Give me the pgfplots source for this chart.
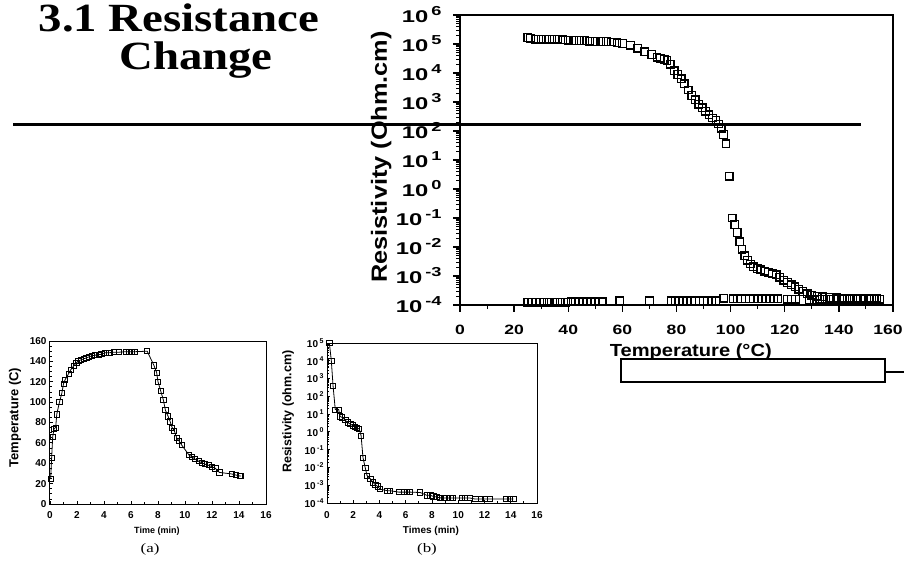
\documentclass[border=0pt]{standalone}
\usepackage{fontspec}
\usepackage{pgfplots}
\pgfplotsset{compat=1.18}
\setmainfont{Liberation Serif}
\newfontfamily\titlefont{Liberation Serif}[FakeStretch=1.17]
\newfontfamily\sfwide{Liberation Sans}[FakeStretch=1.3]
\newfontfamily\sfy{Liberation Sans}[FakeStretch=1.4]
\newfontfamily\sfmid{Liberation Sans}[FakeStretch=1.15]
\newfontfamily\sfn{Liberation Sans}
\newfontfamily\capfont{Liberation Serif}[FakeStretch=1.3]
\newcommand\fs[1]{\fontsize{#1}{#1}\selectfont}
\newcommand\ee[1]{10\hspace{3pt}\raisebox{7pt}{\fs{13}#1}}
\newcommand\es[1]{10\hspace{1.5pt}\raisebox{4pt}{\fs{7}#1}}
\pgfplotsset{/pgf/number format/assume math mode=true}
\begin{document}
\begin{tikzpicture}
\path[use as bounding box] (0pt,0pt) rectangle (904pt,565pt);
% title
\node[font=\titlefont\bfseries\fs{40}, anchor=base, inner sep=0pt] at (179pt,533pt) {3.1 Resistance};
\node[font=\titlefont\bfseries\fs{40}, anchor=base, inner sep=0pt] at (196pt,495pt) {Change};

% main chart
\begin{axis}[
  at={(460pt,260pt)}, anchor=south west,
  scale only axis, width=433pt, height=290pt,
  xmin=0, xmax=160, ymode=log, log basis y=10, ymin=1e-4, ymax=1e6,
  axis line style={line width=1.6pt},
  xtick={0,20,...,160}, minor xtick={10,30,...,150},
  xticklabels={0,20,40,60,80,100,120,140,{\kern-10pt 160}},
  ytick={1e-4,1e-3,1e-2,1e-1,1,1e1,1e2,1e3,1e4,1e5,1e6},
  minor ytick={2e-4,3e-4,4e-4,5e-4,6e-4,7e-4,8e-4,9e-4,
    2e-3,3e-3,4e-3,5e-3,6e-3,7e-3,8e-3,9e-3,
    2e-2,3e-2,4e-2,5e-2,6e-2,7e-2,8e-2,9e-2,
    2e-1,3e-1,4e-1,5e-1,6e-1,7e-1,8e-1,9e-1,
    2,3,4,5,6,7,8,9,
    20,30,40,50,60,70,80,90,
    200,300,400,500,600,700,800,900,
    2e3,3e3,4e3,5e3,6e3,7e3,8e3,9e3,
    2e4,3e4,4e4,5e4,6e4,7e4,8e4,9e4,
    2e5,3e5,4e5,5e5,6e5,7e5,8e5,9e5},
  yticklabels={\ee{-4},\ee{-3},\ee{-2},\ee{-1},\ee{0},\ee{1},\ee{2},\ee{3},\ee{4},\ee{5},\ee{6}},
  tick pos=left, tick align=outside,
  major tick length=7pt, minor tick length=4pt,
  every tick/.style={black, line width=1.4pt},
  every minor tick/.style={black, line width=1pt},
  xticklabel style={font=\sfwide\bfseries\fs{13.5}, yshift=-10pt},
  yticklabel style={font=\sfy\bfseries\fs{17}, xshift=-8pt},
  xlabel={Temperature (°C)}, ylabel={Resistivity (Ohm.cm)},
  xlabel style={font=\sfmid\bfseries\fs{17.5}, at={(axis description cs:0.533,-0.179)}, anchor=base},
  ylabel style={font=\sfmid\bfseries\fs{22}, at={(axis description cs:-0.182,0.51)}, anchor=center},
]
\addplot[only marks, mark=square, mark size=3.8pt, mark options={line width=1.3pt, black}] coordinates {
(25,1.66e5) (26,1.58e5) (28,1.48e5) (30,1.48e5) (32,1.45e5) (34,1.45e5) (36,1.48e5) (38,1.38e5)
(40,1.35e5) (42,1.32e5) (44,1.32e5) (46,1.32e5) (48,1.26e5) (50,1.23e5) (52,1.23e5) (54,1.23e5)
(56,1.17e5) (58,1.10e5) (60,1.05e5) (63,9.1e4) (65.7,7.1e4) (68.3,5.4e4) (70.9,4.3e4) (72.8,3.5e4)
(74,3.2e4) (75.4,2.95e4) (76.5,2.7e4) (77.7,2.0e4) (79.2,1.2e4) (80.5,8.9e3) (81.7,6.3e3) (82.8,4.2e3)
(84.3,2.6e3) (85.6,1.66e3) (86.9,1.2e3) (88.2,830) (89.5,630) (90.7,480) (92,360) (93.3,280)
(94.6,230) (95.5,174) (96.5,126) (97.4,76) (98.3,36) (99.5,2.75) (100.6,0.1) (101.5,0.06)
(102.4,0.032) (103.4,0.015) (104.2,8.3e-3) (105.2,5.0e-3) (106.2,3.5e-3) (107.3,2.6e-3) (108.5,2.1e-3)
(109.8,1.82e-3) (111.2,1.62e-3) (112.6,1.48e-3) (114,1.32e-3) (115.5,1.2e-3) (116.8,1.1e-3)
(118.2,9.1e-4) (119.6,7.2e-4) (121,6.0e-4) (122.4,5.0e-4) (123.8,4.2e-4) (125.2,3.5e-4)
(126.7,2.9e-4) (128.3,2.45e-4) (130,2.2e-4) (132,2.0e-4) (134,1.9e-4) (136.5,1.82e-4) (139,1.78e-4)
(141.5,1.74e-4) (144,1.74e-4) (146.5,1.7e-4) (149,1.7e-4) (151.5,1.7e-4) (154,1.7e-4)
};
\addplot[only marks, mark=square, mark size=3.8pt, mark options={line width=1.3pt, black}] coordinates {
(25,1.23e-4) (26.5,1.23e-4) (28,1.23e-4) (29.5,1.23e-4) (31,1.23e-4) (33,1.23e-4) (35,1.23e-4)
(37,1.23e-4) (39,1.23e-4) (41,1.3e-4) (42.5,1.3e-4) (44,1.3e-4) (45.5,1.3e-4) (47,1.3e-4)
(48.5,1.3e-4) (50,1.3e-4) (52.5,1.3e-4) (59,1.41e-4) (70,1.41e-4) (78,1.41e-4) (79.5,1.41e-4)
(81,1.41e-4) (82.5,1.41e-4) (84,1.41e-4) (87,1.41e-4) (88.5,1.41e-4) (90,1.41e-4) (91.5,1.41e-4)
(93,1.41e-4) (94.5,1.41e-4) (97.5,1.7e-4) (101,1.65e-4) (102.5,1.65e-4) (104,1.65e-4) (105.5,1.65e-4)
(107,1.65e-4) (108.5,1.65e-4) (110,1.65e-4) (111.5,1.65e-4) (113,1.65e-4) (114.5,1.65e-4)
(116,1.65e-4) (117.5,1.65e-4) (121,1.6e-4) (122.5,1.6e-4) (124,1.6e-4) (129,1.5e-4) (131,1.5e-4)
(133,1.6e-4) (135,1.6e-4) (137,1.6e-4) (139,1.6e-4) (141,1.6e-4) (143,1.6e-4) (145,1.6e-4)
(147,1.6e-4) (149,1.6e-4) (151,1.6e-4) (153,1.6e-4) (155,1.6e-4)
};
\end{axis}

% plot (a)
\begin{axis}[
  at={(50pt,61pt)}, anchor=south west,
  scale only axis, width=216pt, height=163pt,
  xmin=0, xmax=16, ymin=0, ymax=160,
  xtick={0,2,...,16}, ytick={0,20,...,160},
  minor x tick num=1, minor y tick num=3,
  tick pos=left, tick align=inside,
  major tick length=3pt, minor tick length=2pt,
  axis line style={line width=1pt},
  every tick/.style={black, line width=0.8pt},
  ticklabel style={font=\sfn\bfseries\fs{10}},
  xticklabel style={yshift=-4pt},
  xlabel={Time (min)}, ylabel={Temperature (C)},
  xlabel style={font=\sfn\bfseries\fs{9}, at={(axis description cs:0.495,-0.18)}, anchor=base},
  ylabel style={font=\sfn\bfseries\fs{13}, at={(axis description cs:-0.162,0.53)}, anchor=center},
]
\addplot[black, line width=0.8pt, mark=square, mark size=2.6pt, mark options={line width=0.8pt}] coordinates {
(0.05,24.5) (0.12,45) (0.2,66) (0.3,74) (0.42,75) (0.5,88) (0.7,100) (0.88,109) (1.0,118) (1.12,122)
(1.38,128) (1.55,132) (1.75,135.5) (1.95,138.5) (2.1,140.5) (2.3,141.5) (2.5,142.5) (2.7,143.5)
(2.9,144.5) (3.1,145.5) (3.3,146) (3.6,146.5) (3.8,147) (4.1,148.5) (4.4,148.5) (4.75,149) (5.1,149)
(5.6,149.5) (5.85,149.5) (6.05,149.5) (6.3,149.5) (7.2,150) (7.7,136) (7.9,129) (8.0,120) (8.2,111)
(8.4,102) (8.55,92) (8.75,86) (8.9,81) (9.05,75) (9.2,72) (9.4,64.5) (9.55,62) (9.75,58) (10.3,48)
(10.5,46.5) (10.75,44) (11.0,42) (11.25,40.5) (11.5,39) (11.75,38) (12.0,36.6) (12.25,35) (12.55,31)
(13.45,29.5) (13.75,28.5) (14.05,27.5) (14.15,27.5)
};
\end{axis}

% plot (b)
\begin{axis}[
  at={(327pt,62pt)}, anchor=south west,
  scale only axis, width=210pt, height=160pt,
  xmin=0, xmax=16, ymode=log, log basis y=10, ymin=1e-4, ymax=1e5,
  xtick={0,2,...,16}, minor x tick num=1,
  ytick={1e-4,1e-3,1e-2,1e-1,1,1e1,1e2,1e3,1e4,1e5},
  minor ytick={2e-4,3e-4,4e-4,5e-4,6e-4,7e-4,8e-4,9e-4,
    2e-3,3e-3,4e-3,5e-3,6e-3,7e-3,8e-3,9e-3,
    2e-2,3e-2,4e-2,5e-2,6e-2,7e-2,8e-2,9e-2,
    2e-1,3e-1,4e-1,5e-1,6e-1,7e-1,8e-1,9e-1,
    2,3,4,5,6,7,8,9,
    20,30,40,50,60,70,80,90,
    200,300,400,500,600,700,800,900,
    2e3,3e3,4e3,5e3,6e3,7e3,8e3,9e3,
    2e4,3e4,4e4,5e4,6e4,7e4,8e4,9e4},
  yticklabels={\es{-4},\es{-3},\es{-2},\es{-1},\es{0},\es{1},\es{2},\es{3},\es{4},\es{5}},
  tick pos=left, tick align=inside,
  major tick length=3pt, minor tick length=2pt,
  axis line style={line width=1pt},
  every tick/.style={black, line width=0.8pt},
  ticklabel style={font=\sfn\bfseries\fs{10}},
  xticklabel style={yshift=-5pt},
  xlabel={Times (min)}, ylabel={Resistivity (ohm.cm)},
  xlabel style={font=\sfn\bfseries\fs{10}, at={(axis description cs:0.495,-0.19)}, anchor=base},
  ylabel style={font=\sfn\bfseries\fs{12.5}, at={(axis description cs:-0.185,0.57)}, anchor=center},
]
\addplot[black, line width=0.8pt, mark=square, mark size=2.6pt, mark options={line width=0.8pt}] coordinates {
(0.18,1e5) (0.33,1e4) (0.46,400) (0.63,18) (0.89,18) (1.0,7.4) (1.14,6.6) (1.4,4.5) (1.57,3.4)
(1.78,2.75) (1.95,2.3) (2.1,1.95) (2.28,1.66) (2.46,1.45) (2.6,0.6) (2.74,0.036) (2.92,0.0091)
(3.05,3.5e-3) (3.3,2.3e-3) (3.5,1.45e-3) (3.68,1.07e-3) (3.86,8.5e-4) (4.06,6.0e-4) (4.6,4.9e-4)
(4.82,4.9e-4) (5.46,4.1e-4) (5.84,4.1e-4) (6.09,4.1e-4) (6.3,4.1e-4) (7.1,3.9e-4) (7.6,2.7e-4)
(7.87,2.7e-4) (8.1,2.35e-4) (8.4,2.15e-4) (8.6,1.95e-4) (8.9,1.9e-4) (9.1,1.9e-4) (9.4,1.9e-4)
(9.6,1.9e-4) (10.3,1.9e-4) (10.5,1.9e-4) (10.9,1.9e-4) (11.3,1.66e-4) (11.7,1.66e-4) (12.05,1.66e-4)
(12.4,1.66e-4) (13.6,1.66e-4) (13.95,1.66e-4) (14.2,1.66e-4)
};
\end{axis}

% captions
\node[font=\capfont\fs{13}, anchor=base, inner sep=0pt] at (150pt,13pt) {(a)};
\node[font=\capfont\fs{13}, anchor=base, inner sep=0pt] at (427pt,13pt) {(b)};

% slide decorations
\draw[line width=3pt] (13pt,440pt) -- (861pt,440pt);
\draw[line width=1.2pt] (621pt,206pt) rectangle (885pt,183pt);
\draw[line width=1.2pt] (885pt,193pt) -- (904pt,193pt);
\end{tikzpicture}
\end{document}
